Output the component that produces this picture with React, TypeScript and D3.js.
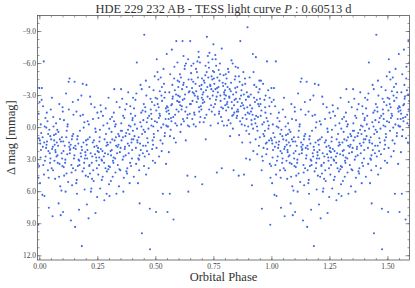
import React from 'react';
import * as d3 from 'd3';

const width = 415;
const height = 288;
const margin = { top: 15.5, right: 5.5, bottom: 28, left: 37.5 };

// phase-folded TESS points, flat pairs: phase (x1000), delta mag (x10 mmag)
const seg0 = [
  37, 22, 4, -3, 22, 31, 45, 8, 11, 63, 30, -14, 2, 15, 18, 44, 41, 2, 27, 19, 8, -26, 49, 11, 15, 35, 33, -6, 0, 12,
  25, 27, 39, 75, 6, 5, 20, 64, 47, -17, 13, 18, 35, 40, 9, -37, 28, 0, 43, 24, 1, 52, 17, -62, 31, 13, 46, 29, 24, -9,
  12, 9, 38, 47, 5, 21, 21, -1, 44, 33, 29, 16, 14, -20, 36, 6, 3, 28, 19, 14,
  72, 27, 58, -10, 91, 13, 66, 48, 53, 20, 84, -22, 97, 36, 61, 7, 79, 17, 88, 55, 55, 83, 70, -4, 94, 24, 63, 31,
  81, 71, 75, 2, 99, -15, 57, 40, 86, 11, 68, 23, 90, 82, 52, -28, 77, 33, 95, 9, 64, 16, 83, 46, 59, -1, 73, 14,
  96, 29, 51, 38, 87, -8, 67, 21, 80, 4, 93, 59, 62, 12, 76, 26, 98, -19, 56, 18, 85, 34, 69, 6,
];
const seg1 = [
  118, 25, 104, -7, 137, 42, 126, 14, 109, 33, 145, -12, 131, 20, 100, 79, 122, 51, 140, 8, 113, -32, 128, -46,
  149, 26, 107, 17, 134, 87, 116, 3, 143, 38, 102, 22, 125, -17, 138, 11, 111, 60, 147, 29, 120, -3, 133, 16, 105, 45,
  129, 24, 142, -24, 114, 9, 136, 35, 101, 13, 124, -43, 146, 19, 110, 30, 139, 54, 119, -1, 103, 37, 130, 21, 144, 6,
  115, 43, 127, 18,
  167, 30, 152, 93, 188, 14, 175, -11, 159, 49, 196, 23, 181, 111, 163, 8, 171, 35, 192, -5, 155, 20, 184, 41, 199, 12,
  160, 62, 178, 27, 165, -26, 190, 38, 153, 17, 186, -12, 173, 3, 157, 52, 194, 29, 169, 77, 182, 21, 150, -43, 198, 45,
  161, 11, 176, 24, 189, 0, 164, 36, 193, 58, 158, -15, 180, 18, 170, 31, 185, -41, 154, 40, 197, 26, 166, 15, 179, -30,
  191, 33,
];
const seg2 = [
  213, 36, 201, -40, 238, 25, 222, 57, 207, 11, 244, 31, 229, -8, 216, 43, 203, 72, 235, 18, 248, -14, 210, 85,
  226, 27, 241, 4, 217, -29, 232, 50, 205, 21, 246, 38, 220, 60, 228, 14, 211, -3, 240, 80, 224, 33, 249, 22, 208, 46,
  236, -19, 215, 9, 243, 28, 202, 16, 230, 40, 219, 24, 247, 65, 206, -6, 233, 12, 214, 35, 239, 1, 225, 48, 204, 29,
  245, 17, 221, -22,
  266, 30, 253, -9, 287, 17, 271, 46, 259, 2, 294, 25, 278, 68, 262, -21, 283, 38, 257, 13, 291, -4, 270, 22, 298, 53,
  255, 35, 279, 11, 264, -15, 289, 41, 251, 19, 276, 27, 296, -28, 260, 57, 285, 6, 268, 31, 252, 44, 293, 16, 274, -2,
  281, 24, 297, 36, 258, 9, 288, 62, 263, 20, 272, -11, 256, 28, 290, 14, 267, 49, 299, 1, 277, 33, 254, 23, 284, -18,
  295, 39,
];
const seg3 = [
  318, 28, 303, -8, 339, 16, 326, 42, 309, 4, 345, 23, 331, -24, 312, 11, 300, 64, 336, 35, 321, -36, 348, 19, 306, 50,
  327, -3, 342, 8, 315, 31, 330, 62, 304, 14, 333, 24, 319, -14, 347, 40, 310, 21, 324, -1, 338, 6, 302, 37, 329, 17,
  344, -19, 314, 46, 322, 12, 307, 26, 341, 55, 325, 29, 311, -10, 335, 18, 349, 3, 317, 33, 328, 9, 305, 22, 343, 39,
  320, -6,
  366, 20, 351, -4, 389, 33, 374, -22, 358, 9, 395, 14, 381, -33, 362, 47, 370, 26, 392, -13, 354, 3, 385, 17, 399, -7,
  360, 60, 377, 38, 350, -36, 396, 11, 368, -17, 383, 24, 357, 30, 391, -1, 372, 5, 387, 52, 364, -9, 398, 21, 379, 15,
  355, -27, 393, 36, 369, 8, 384, -2, 361, 27, 376, 43, 352, 12, 390, -20, 367, 18, 380, 2, 397, 29, 359, -11, 386, 6,
  373, 41,
];
const seg4 = [
  418, -61, 403, 11, 437, -14, 424, 29, 409, -3, 445, 17, 430, 71, 412, -26, 441, 6, 428, 40, 400, -9, 435, 21,
  416, -32, 447, 2, 421, 14, 406, -18, 440, 99, 433, -5, 415, 34, 448, -22, 426, 9, 405, 46, 439, -36, 419, 1, 444, 24,
  411, -11, 432, 15, 402, -28, 427, 30, 446, -7, 414, 19, 438, -1, 423, 52, 408, 8, 443, -16, 429, 26, 401, 3, 434, -40,
  420, 12, 449, 36,
  450, -87, 466, 14, 483, -24, 457, -44, 492, 9, 471, -11, 487, 31, 459, -30, 475, 114, 496, -6, 462, 22, 478, -17,
  453, 4, 490, -35, 469, 38, 481, -2, 456, 17, 494, -21, 474, 76, 465, -9, 486, 12, 452, 27, 499, -28, 468, 1, 480, -13,
  458, 44, 491, 6, 472, -38, 484, 20, 461, -5, 497, 33, 455, -15, 477, -27, 489, -1, 463, 10, 495, -48, 470, 25,
  482, -8, 454, -19, 488, 16,
];
const seg5 = [
  516, -13, 501, 79, 538, 8, 524, -30, 507, -52, 545, -2, 530, 62, 512, -19, 504, -64, 535, -41, 520, 12, 547, -69,
  509, 3, 527, -25, 542, -8, 514, 27, 533, -55, 502, -16, 540, -33, 523, 0, 548, -20, 511, -45, 529, 15, 505, -5,
  537, -28, 518, -11, 544, 34, 526, -38, 508, -22, 539, 5, 521, -47, 513, -9, 546, -15, 503, 19, 532, -3, 517, -34,
  543, -18, 525, 22, 506, -27, 549, -1,
  566, -21, 550, 79, 584, -4, 571, -40, 557, -13, 596, -30, 578, 10, 562, -50, 589, -17, 569, -73, 553, -1, 592, -25,
  576, 86, 560, 62, 582, -35, 555, -8, 598, -15, 573, -29, 588, -81, 564, 2, 580, -57, 551, -19, 594, -44, 575, -10,
  558, -33, 586, 14, 567, -6, 599, -24, 579, -46, 554, -16, 591, -2, 572, -27, 561, 8, 583, -12, 597, -38, 570, -22,
  556, 23, 587, -31, 565, -9, 593, -61,
];
const seg6 = [
  616, -26, 601, -43, 637, -12, 624, -55, 609, -3, 645, -34, 630, -60, 612, -20, 648, -81, 635, -9, 619, -67,
  603, -29, 641, -45, 627, -15, 606, 4, 615, -81, 633, -38, 647, -22, 621, -6, 604, -50, 639, -64, 626, -31, 611, -17,
  644, -1, 618, -40, 636, 45, 602, -24, 629, 12, 640, 60, 613, -36, 646, -13, 623, -27, 608, -47, 632, -19, 617, -8,
  642, -33, 625, -58, 605, -21, 638, -2, 620, -42,
  668, -30, 652, -51, 686, -19, 671, -41, 657, -8, 695, -36, 679, -62, 662, -60, 690, -61, 676, -24, 654, -45,
  684, -71, 665, -14, 698, -28, 673, -55, 659, -33, 692, -10, 681, -47, 651, -22, 670, 46, 688, -39, 663, -3, 677, -52,
  696, -17, 656, -37, 682, -27, 699, -46, 667, -12, 674, -34, 653, -58, 689, -5, 680, -29, 661, -43, 694, -20,
  658, -25, 685, -66, 672, -1, 697, -40, 664, -32, 687, -15,
];
const seg7 = [
  716, -35, 700, 53, 738, -21, 724, -67, 707, -44, 745, -30, 729, -56, 711, -9, 720, -85, 734, -40, 748, -78,
  703, -26, 727, -61, 741, -15, 713, -49, 705, -33, 736, -2, 722, -38, 746, -53, 709, -24, 731, -70, 718, -12,
  743, -45, 701, -31, 733, -27, 726, -47, 749, -19, 714, -58, 739, -36, 706, -5, 723, -29, 744, -64, 710, -42,
  730, -17, 747, -34, 719, -52, 702, -23, 735, -39, 715, 11, 740, -48,
  767, -33, 751, -52, 789, -18, 774, -44, 758, -64, 796, -27, 781, -10, 763, 42, 784, -74, 770, -38, 755, -22,
  792, -49, 778, -30, 760, -58, 786, -6, 752, -41, 798, -35, 773, -15, 765, -47, 784, 38, 779, -25, 757, -36, 793, -2,
  771, -54, 762, -29, 788, -42, 754, -12, 799, -21, 776, -60, 764, -37, 782, -19, 750, -46, 795, -31, 768, -4,
  777, -50, 759, -26, 790, -39, 772, -13, 756, -68, 794, -33,
];
const seg8 = [
  817, -28, 801, -50, 838, -14, 824, -42, 807, -2, 846, -33, 831, -60, 812, -19, 842, -37, 820, 8, 805, -46, 835, 40,
  827, -24, 848, -9, 811, -55, 833, -31, 803, -16, 840, -45, 822, -4, 845, -27, 809, -38, 829, -11, 814, -52, 837, -21,
  802, -30, 826, -63, 849, -15, 818, -36, 832, 1, 806, -22, 843, -48, 823, -34, 813, -7, 839, -26, 800, -41, 828, -18,
  844, -57, 816, -29, 834, -12, 808, -24,
  866, -20, 851, -38, 889, 29, 874, -9, 857, 45, 895, -94, 880, 44, 862, -27, 884, -46, 870, -3, 855, -15, 892, -33,
  877, -52, 864, -81, 886, -12, 852, -24, 898, -1, 873, -40, 859, 7, 881, -18, 867, -30, 854, -56, 891, -8, 876, -21,
  861, -43, 896, -14, 883, -2, 869, -35, 850, -11, 888, -26, 872, 14, 858, -48, 894, -19, 879, -31, 863, -6, 885, -41,
  853, -17, 897, -29, 871, -23, 890, 3,
];
const seg9 = [
  917, -12, 901, -29, 938, 3, 924, -40, 907, 14, 945, -20, 931, -66, 912, -7, 942, -33, 920, 22, 904, -47, 936, -1,
  918, -69, 927, -24, 948, 9, 910, -15, 933, -38, 914, 54, 940, -10, 923, -28, 905, 30, 929, -4, 946, -44, 915, -18,
  902, 6, 935, -26, 921, -52, 944, 17, 909, -31, 926, -8, 941, -22, 903, -13, 930, 11, 947, -36, 913, -3, 937, 25,
  906, -21, 932, -11, 949, -27, 919, 1,
  966, -5, 951, -22, 988, 12, 973, -30, 957, 76, 995, -13, 980, 20, 962, -41, 993, 91, 970, 3, 955, -16, 991, 34,
  977, -9, 958, 27, 984, -35, 967, 8, 999, -24, 974, 15, 953, -44, 987, -2, 979, -62, 961, 31, 996, 10, 971, -19,
  956, 40, 990, -28, 982, -6, 964, 19, 998, -37, 976, 25, 952, -11, 985, 1, 968, -26, 994, 47, 959, -3, 978, 14,
  989, -20, 963, 6, 997, 36, 972, -14,
];

const xTicks = [0, 0.25, 0.5, 0.75, 1.0, 1.25, 1.5];
const yTicks = [-9, -6, -3, 0, 3, 6, 9, 12];
const xDomain = [-0.01, 1.593];
const yDomain = [-10.5, 12.4];

// unpack and repeat the fold so the plot runs past phase 1
const base: [number, number][] = [];
[seg0, seg1, seg2, seg3, seg4, seg5, seg6, seg7, seg8, seg9].forEach((seg) => {
  for (let i = 0; i < seg.length; i += 2) base.push([seg[i] / 1000, seg[i + 1] / 10]);
});
const points: [number, number][] = [];
base.forEach(([p, m]) => {
  points.push([p, m]);
  if (p + 1 <= xDomain[1]) points.push([p + 1, m]);
  if (p - 1 >= xDomain[0]) points.push([p - 1, m]);
});

const x = d3.scaleLinear().domain(xDomain).range([margin.left, width - margin.right]);
const y = d3.scaleLinear().domain(yDomain).range([margin.top, height - margin.bottom]);

const xMinor = d3.range(0, 1.6, 0.05).filter(v => v > xDomain[0] && v < xDomain[1]);
const yMinor = d3.range(-10.5, 12.5, 0.75).filter(v => v > yDomain[0] && v < yDomain[1]);

const fmtX = d3.format('.2f');
const fmtY = d3.format('.1f');
const axisColor = '#555';
const font = "'Liberation Serif', 'Times New Roman', serif";

export default function App() {
  const x0 = margin.left;
  const x1 = width - margin.right;
  const y0 = margin.top;
  const y1 = height - margin.bottom;
  return (
    <svg width={width} height={height} style={{ position: 'absolute', left: 0, top: 0 }} fontFamily={font}>
      <rect width={width} height={height} fill="#fff" />
      <defs>
        <clipPath id="plot">
          <rect x={x0} y={y0} width={x1 - x0} height={y1 - y0} />
        </clipPath>
      </defs>
      <g clipPath="url(#plot)">
        {points.map(([p, m], i) => (
          <circle key={i} cx={x(p)} cy={y(m)} r={1.05} fill="#4169e1" />
        ))}
      </g>
      <g stroke={axisColor} strokeWidth={0.6}>
        {xMinor.map(v => (
          <g key={'xm' + v}>
            <line x1={x(v)} x2={x(v)} y1={y1} y2={y1 - 2} />
            <line x1={x(v)} x2={x(v)} y1={y0} y2={y0 + 2} />
          </g>
        ))}
        {xTicks.map(v => (
          <g key={'xt' + v}>
            <line x1={x(v)} x2={x(v)} y1={y1} y2={y1 - 4} />
            <line x1={x(v)} x2={x(v)} y1={y0} y2={y0 + 4} />
          </g>
        ))}
        {yMinor.map(v => (
          <g key={'ym' + v}>
            <line x1={x0} x2={x0 + 2} y1={y(v)} y2={y(v)} />
            <line x1={x1} x2={x1 - 2} y1={y(v)} y2={y(v)} />
          </g>
        ))}
        {yTicks.map(v => (
          <g key={'yt' + v}>
            <line x1={x0} x2={x0 + 4} y1={y(v)} y2={y(v)} />
            <line x1={x1} x2={x1 - 4} y1={y(v)} y2={y(v)} />
          </g>
        ))}
      </g>
      <rect x={x0} y={y0} width={x1 - x0} height={y1 - y0} fill="none" stroke={axisColor} strokeWidth={0.8} />
      <g fontSize={7.5} fill="#444">
        {xTicks.map(v => (
          <text key={'xl' + v} x={x(v)} y={y1 + 8.5} textAnchor="middle">{fmtX(v)}</text>
        ))}
        {yTicks.map(v => (
          <text key={'yl' + v} x={x0 - 1.5} y={y(v) + 2.6} textAnchor="end">{fmtY(v)}</text>
        ))}
      </g>
      <text x={(x0 + x1) / 2} y={13} textAnchor="middle" fontSize={12.5} fill="#333">
        HDE 229 232 AB - TESS light curve <tspan fontStyle="italic">P</tspan> : 0.60513 d
      </text>
      <text x={(x0 + x1) / 2} y={281} textAnchor="middle" fontSize={12.5} fill="#333">Orbital Phase</text>
      <text transform={`translate(15, ${(y0 + y1) / 2}) rotate(-90)`} textAnchor="middle" fontSize={12.5} fill="#333">
        Δ mag [mmag]
      </text>
    </svg>
  );
}
